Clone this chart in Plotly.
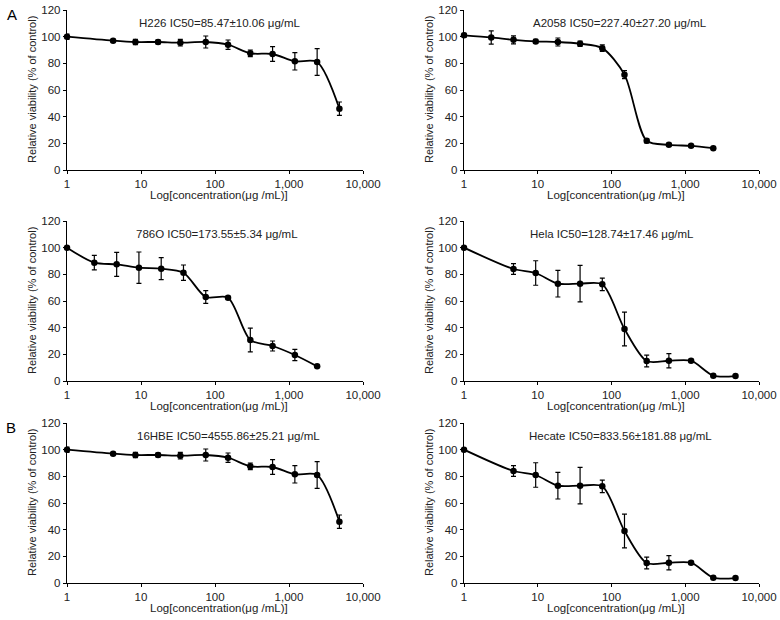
import plotly.graph_objects as go

# ---------------- data ----------------
x_h226 = [1, 4.2, 8.4, 17, 34, 75, 150, 300, 600, 1200, 2400, 4800]
y_h226 = [100, 97, 96, 96, 95.5, 96, 94, 87.5, 87, 81.5, 81, 46]
e_h226 = [2, 1, 2, 1.5, 2.5, 4.5, 3.5, 2.5, 5.5, 6.5, 10, 5]

x_a2058 = [1, 2.34, 4.69, 9.375, 18.75, 37.5, 75, 150, 300, 600, 1200, 2400]
y_a2058 = [101, 99.4, 97.6, 96.4, 96, 94.7, 91.4, 71.5, 21.9, 18.9, 18.1, 16.4]
e_a2058 = [1.5, 5, 3, 1.5, 3, 2, 2.5, 3, 1.5, 1, 1, 1]

x_786o = [1, 2.34, 4.69, 9.375, 18.75, 37.5, 75, 150, 300, 600, 1200, 2400]
y_786o = [100, 88.75, 87.5, 85, 84.25, 81.25, 63, 62.5, 30.75, 26.25, 19.5, 11]
e_786o = [0.5, 5.4, 9, 11.75, 8.25, 5.75, 4.75, 1, 8.9, 3.75, 4.25, 0.5]

x_hela = [1, 4.69, 9.375, 18.75, 37.5, 75, 150, 300, 600, 1200, 2400, 4800]
y_hela = [100, 84, 81, 73, 73, 72.5, 39, 15, 15.2, 15.2, 4, 3.7]
e_hela = [0.5, 4, 9.2, 10, 13.7, 4.7, 12.6, 4.4, 5.3, 1, 0.5, 0.5]

x_16hbe = [1, 4.2, 8.4, 17, 34, 75, 150, 300, 600, 1200, 2400, 4800]
y_16hbe = [100, 97, 96, 96, 95.5, 96, 94, 87.5, 87, 81.5, 81, 46]
e_16hbe = [2, 1, 2, 1.5, 2.5, 4.5, 3.5, 2.5, 5.5, 6.5, 10, 5]

x_hecate = [1, 4.69, 9.375, 18.75, 37.5, 75, 150, 300, 600, 1200, 2400, 4800]
y_hecate = [100, 84, 81, 73, 73, 72.5, 39, 15, 15.2, 15.2, 4, 3.7]
e_hecate = [0.5, 4, 9.2, 10, 13.7, 4.7, 12.6, 4.4, 5.3, 1, 0.5, 0.5]

titles = [
    "H226 IC50=85.47±10.06 μg/mL",
    "A2058 IC50=227.40±27.20 μg/mL",
    "786O IC50=173.55±5.34 μg/mL",
    "Hela IC50=128.74±17.46 μg/mL",
    "16HBE IC50=4555.86±25.21 μg/mL",
    "Hecate IC50=833.56±181.88 μg/mL",
]
x_tickvals = [1, 10, 100, 1000, 10000]
x_ticktext = ["1", "10", "100", "1,000", "10,000"]
y_tickvals = [0, 20, 40, 60, 80, 100, 120]
x_title = "Log[concentration(μg /mL)]"
y_title = "Relative viability (% of control)"

series = [
    (x_h226, y_h226, e_h226),
    (x_a2058, y_a2058, e_a2058),
    (x_786o, y_786o, e_786o),
    (x_hela, y_hela, e_hela),
    (x_16hbe, y_16hbe, e_16hbe),
    (x_hecate, y_hecate, e_hecate),
]

# ---------------- layout (pixel geometry) ----------------
W, H = 780, 620
cols = [(67, 363), (464, 759)]
rows = [(10, 170), (221, 381), (423, 583)]   # top, bottom pixel of plot area
title_dx = [(220, 620), (217, 612), (228, 620)]

FONT = "Liberation Sans, Arial, Helvetica, sans-serif"

fig = go.Figure()
annotations = []

for i, (xs, ys, es) in enumerate(series):
    r, c = divmod(i, 2)
    x0, x1 = cols[c]
    top, bot = rows[r]
    ax = "" if i == 0 else str(i + 1)
    fig.add_trace(go.Scatter(
        x=xs, y=ys, mode="lines+markers",
        line=dict(color="black", width=1.8, shape="spline", smoothing=0.8),
        marker=dict(color="black", size=6.5),
        error_y=dict(type="data", array=es, visible=True, color="black",
                     thickness=1.2, width=2.5),
        xaxis="x" + ax, yaxis="y" + ax, showlegend=False, cliponaxis=False,
    ))
    fig.layout["xaxis" + ax] = dict(
        type="log", range=[0, 4], domain=[x0 / W, x1 / W],
        anchor="y" + ax, tickvals=x_tickvals, ticktext=x_ticktext,
        showline=True, linecolor="black", linewidth=1.4,
        ticks="outside", ticklen=3, tickwidth=1.2, tickcolor="black",
        showgrid=False, zeroline=False, automargin=False,
        tickfont=dict(family=FONT, size=11.5, color="#222"),
    )
    fig.layout["yaxis" + ax] = dict(
        range=[0, 120], domain=[(H - bot) / H, (H - top) / H],
        anchor="x" + ax, tickvals=y_tickvals,
        showline=True, linecolor="black", linewidth=1.4,
        ticks="outside", ticklen=3, tickwidth=1.2, tickcolor="black",
        showgrid=False, zeroline=False, automargin=False,
        tickfont=dict(family=FONT, size=11.5, color="#222"),
    )
    # panel title
    annotations.append(dict(
        text=titles[i], x=title_dx[r][c] / W, y=(H - (top + 13)) / H,
        xref="paper", yref="paper", showarrow=False,
        xanchor="center", yanchor="middle",
        font=dict(family=FONT, size=11.5, color="#222"),
    ))
    # x title
    annotations.append(dict(
        text=x_title, x=((x0 + x1) / 2 + 4) / W, y=(H - (bot + 25)) / H,
        xref="paper", yref="paper", showarrow=False,
        xanchor="center", yanchor="middle",
        font=dict(family=FONT, size=11.5, color="#222"),
    ))
    # y title
    annotations.append(dict(
        text=y_title, x=(x0 - 35) / W, y=(H - (top + bot) / 2) / H,
        xref="paper", yref="paper", showarrow=False, textangle=-90,
        xanchor="center", yanchor="middle",
        font=dict(family=FONT, size=11, color="#222"),
    ))

annotations.append(dict(text="A", x=12 / W, y=(H - 15) / H, xref="paper", yref="paper",
                        showarrow=False, xanchor="center", yanchor="middle",
                        font=dict(family=FONT, size=15, color="black")))
annotations.append(dict(text="B", x=11 / W, y=(H - 427) / H, xref="paper", yref="paper",
                        showarrow=False, xanchor="center", yanchor="middle",
                        font=dict(family=FONT, size=15, color="black")))

fig.update_layout(
    width=W, height=H, margin=dict(l=0, r=0, t=0, b=0),
    paper_bgcolor="white", plot_bgcolor="white",
    annotations=annotations, hovermode=False,
)

fig.write_html(
    "out.html",
    config={"displayModeBar": False},
    post_script="document.body.style.margin='0px';document.body.style.overflow='hidden';",
)
